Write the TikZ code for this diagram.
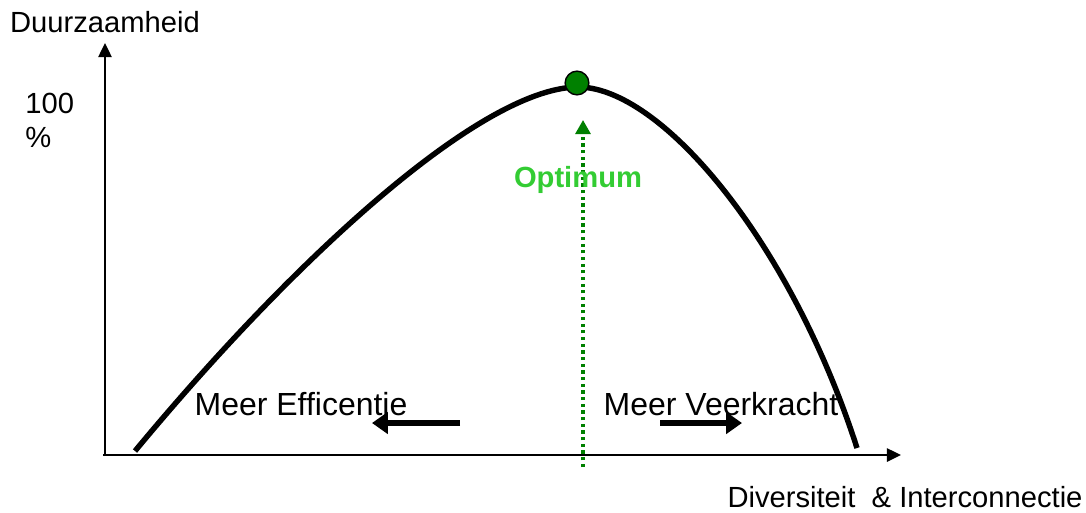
\documentclass[tikz,border=0pt]{standalone}
\usepackage{fontspec}
\setmainfont{Liberation Sans}
\usepackage{xcolor}
\usetikzlibrary{arrows.meta}
\definecolor{optGreen}{HTML}{008000}
\definecolor{optText}{HTML}{33CC33}

\begin{document}
\begin{tikzpicture}[x=0.02cm, y=-0.02cm]
  \useasboundingbox (0,0) rectangle (1086,512);
  \tikzset{
    label/.style={font=\fontsize{16.6}{19}\selectfont, inner sep=0pt},
    biglabel/.style={font=\fontsize{18.2}{21}\selectfont, inner sep=0pt},
    axis/.style={line width=1.2pt, -{Triangle[length=8pt, width=7.5pt]}},
    push/.style={line width=3.6pt, -{Triangle[length=9pt, width=12pt]}}
  }
  % assen
  \coordinate (origin) at (103,455);
  \coordinate (ytop) at (105,43);
  \coordinate (xend) at (901,455);
  \draw[axis] (105,456) -- (ytop);
  \draw[axis] (origin) -- (xend);
  \node[label] (yname) at (105,22) {Duurzaamheid};
  \node[label, anchor=north west, align=left] (hundred) at (25,93) {100\\\%};
  \node[label] (xname) at (905,497) {Diversiteit~~\& Interconnectie};

  % curve
  \coordinate (start) at (135,451);
  \coordinate (crest) at (577,87);
  \coordinate (end) at (857,448);
  \draw[line width=3.1pt, line cap=butt] (start)
    .. controls (295,258) and (480,89) .. (crest)
    .. controls (660,86) and (790,240) .. (end);

  % optimum
  \coordinate (base) at (583,467);
  \coordinate (tip) at (583,120);
  \draw[optGreen, line width=1.8pt, dotted, -{Triangle[length=8pt, width=8.5pt, sep=0pt]}] (base) -- (tip);
  \node[circle, draw=black, fill=optGreen, line width=0.8pt, minimum size=13.5pt, inner sep=0pt] (peak) at (577,83) {};
  \node[label, font=\fontsize{16.6}{19}\selectfont\bfseries, text=optText] (opt) at (578,180) {Optimum};

  % richtingen
  \node[biglabel] (eff) at (301,404) {Meer Efficentie};
  \node[biglabel] (veer) at (721,404) {Meer Veerkracht};
  \coordinate (effA) at (460,423);
  \coordinate (effB) at (372,423);
  \coordinate (veerA) at (660,423);
  \coordinate (veerB) at (742,423);
  \draw[push] (effA) -- (effB);
  \draw[push] (veerA) -- (veerB);
\end{tikzpicture}
\end{document}
